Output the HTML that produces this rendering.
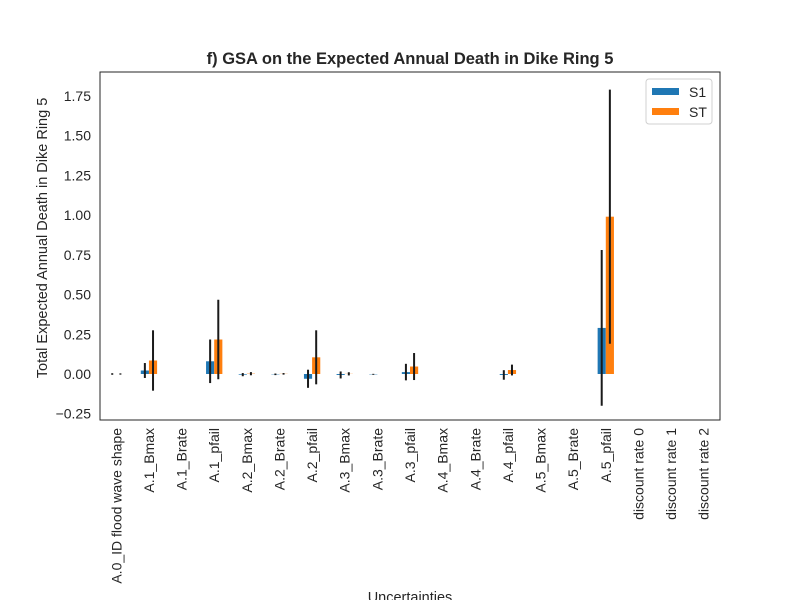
<!DOCTYPE html>
<html><head><meta charset="utf-8"><style>
body{margin:0;background:#fff;}
svg{font-family:"Liberation Sans",Arial,sans-serif;display:block;}
</style></head><body>
<svg id="chart" width="800" height="600"></svg>
<script>
const categories=["A.0_ID flood wave shape","A.1_Bmax","A.1_Brate","A.1_pfail","A.2_Bmax","A.2_Brate","A.2_pfail","A.3_Bmax","A.3_Brate","A.3_pfail","A.4_Bmax","A.4_Brate","A.4_pfail","A.5_Bmax","A.5_Brate","A.5_pfail","discount rate 0","discount rate 1","discount rate 2"];
const s1Values=[0.0,0.022,0,0.08,-0.004,-0.002,-0.03,-0.006,-0.002,0.012,0,0,-0.006,0,0,0.29,0,0,0];
const s1Conf=[0.005,0.047,0,0.137,0.01,0.005,0.057,0.022,0.003,0.052,0,0,0.03,0,0,0.49,0,0,0];
const stValues=[0.0,0.085,0,0.217,0.002,0.001,0.105,0.001,0,0.047,0,0,0.025,0,0,0.99,0,0,0];
const stConf=[0.004,0.19,0,0.25,0.01,0.005,0.17,0.01,0,0.085,0,0,0.034,0,0,0.80,0,0,0];
const yTicks=[-0.25,0,0.25,0.5,0.75,1.0,1.25,1.5,1.75];
const yTickLabels=["−0.25","0.00","0.25","0.50","0.75","1.00","1.25","1.50","1.75"];

const NS="http://www.w3.org/2000/svg";
const svg=document.getElementById('chart');
const L=100,R=720,T=72,B=420;
const y=v=>374-(v)*158.9;
const band=(R-L)/categories.length;
const x=i=>L+band*(i+0.5);
function mk(tag,attrs,parent){const e=document.createElementNS(NS,tag);for(const k in attrs)e.setAttribute(k,attrs[k]);(parent||svg).appendChild(e);return e;}

const t=mk('text',{x:410,y:64,'text-anchor':'middle','font-size':16.5,'font-weight':'bold',fill:'#262626'});


t.textContent="f) GSA on the Expected Annual Death in Dike Ring 5";

yTicks.forEach((v,i)=>{
  const tl=mk('text',{x:91,y:y(v)+5,'text-anchor':'end','font-size':14,fill:'#262626'});
  
  
  tl.textContent=yTickLabels[i];
});
const yl=mk('text',{x:0,y:0,transform:'translate(47,238) rotate(-90)','text-anchor':'middle','font-size':14.5,fill:'#262626'});


yl.textContent="Total Expected Annual Death in Dike Ring 5";

const bw=band*0.25;
categories.forEach((c,i)=>{
  const cx=x(i);
  [[s1Values,s1Conf,'#1f77b4',-1,'bar-s1'],[stValues,stConf,'#ff7f0e',0,'bar-st']].forEach(([vals,conf,col,off,nm])=>{
    const v=vals[i];
    const bx=cx+off*bw;
    if(v!==0){
      const r=mk('rect',{x:bx,y:Math.min(y(v),y(0)),width:bw,height:Math.abs(y(v)-y(0)),fill:col});
      
      
    }
    if(conf[i]>0){
      const l=mk('line',{x1:bx+bw/2,x2:bx+bw/2,y1:y(v+conf[i]),y2:y(v-conf[i]),stroke:'#1a1a1a','stroke-width':2});
      
      
    }
  });
  const lb=mk('text',{x:0,y:0,transform:`translate(${cx+5},428) rotate(-90)`,'text-anchor':'end','font-size':14,fill:'#262626'});
  
  
  lb.textContent=c;
});

const fr=mk('rect',{x:L,y:T,width:R-L,height:B-T,fill:'none',stroke:'#262626','stroke-width':1});



const xl=mk('text',{x:410,y:602,'text-anchor':'middle','font-size':14.5,fill:'#262626'});


xl.textContent="Uncertainties";

const lg=mk('g',{});


mk('rect',{x:646,y:79,width:66,height:45,rx:3,fill:'#fff',stroke:'#d0d0d0'},lg);
[['S1','#1f77b4',92],['ST','#ff7f0e',112]].forEach(([n,c,yy])=>{
  const e=mk('g',{},lg);
  
  
  mk('rect',{x:652,y:yy-4,width:27,height:7,fill:c},e);
  const tx=mk('text',{x:689,y:yy+5,'font-size':14,fill:'#262626'},e);
  tx.textContent=n;
});
</script>
</body></html>
